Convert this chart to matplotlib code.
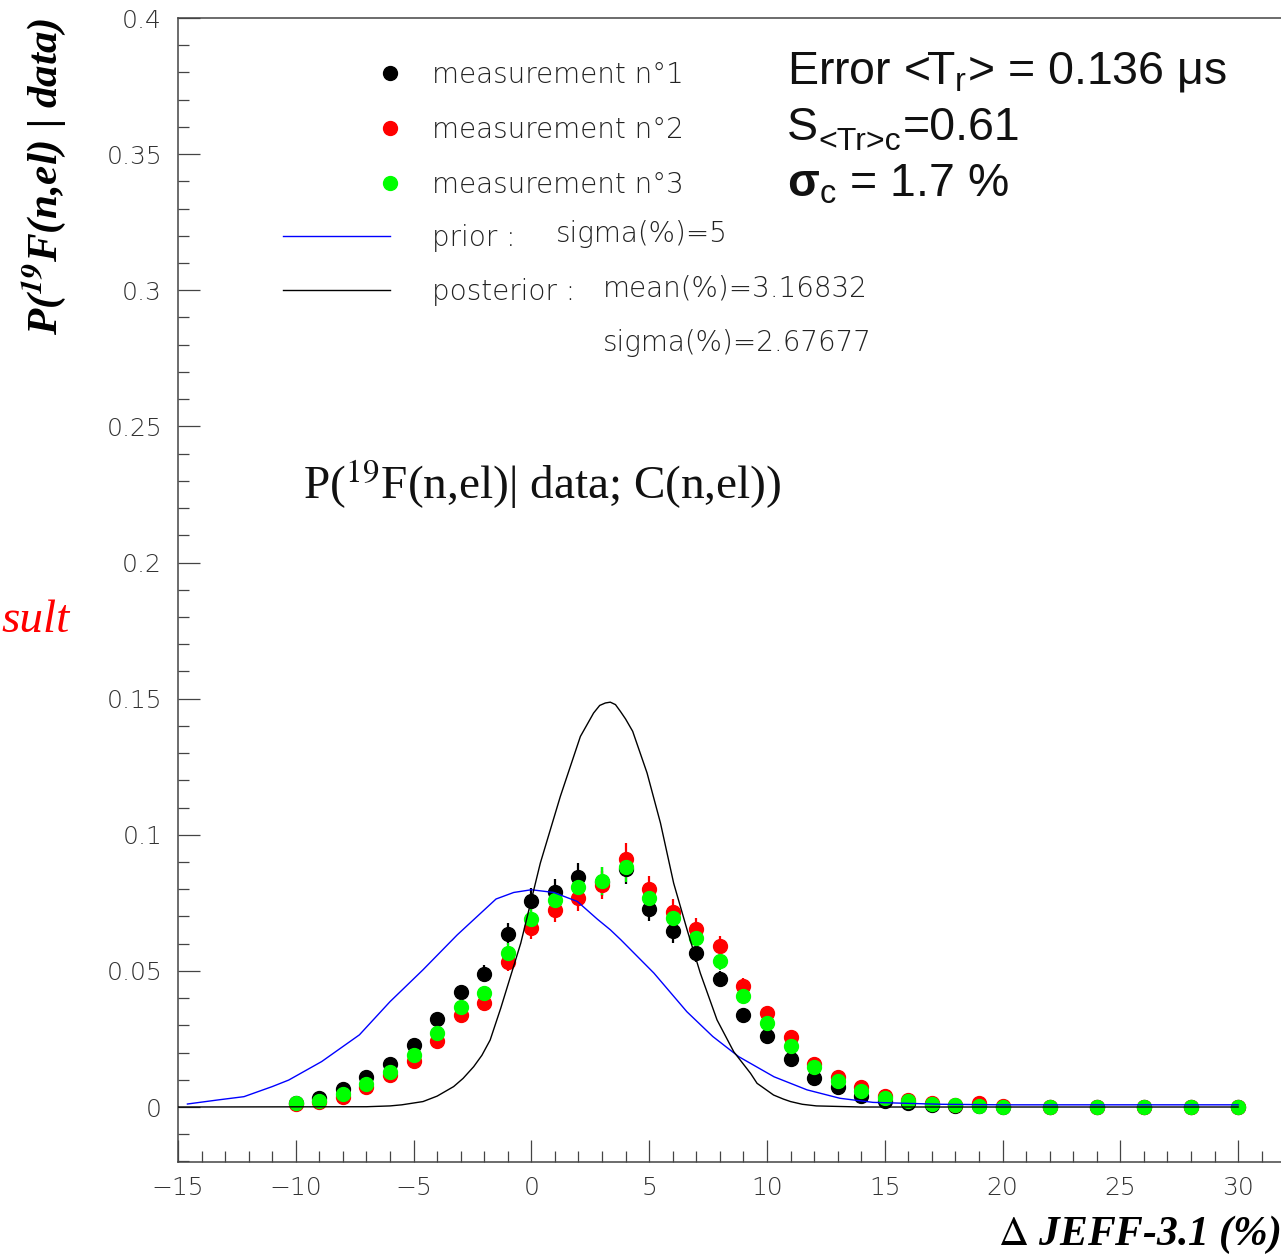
"""Posterior on the 19F(n,el) cross-section change from three measurements."""

import matplotlib.pyplot as plt
from matplotlib.lines import Line2D
from matplotlib.ticker import FuncFormatter, MultipleLocator

W, H = 1281, 1255

# shift relative to JEFF-3.1 (%)
SHIFT = [-10, -9, -8, -7, -6, -5, -4, -3, -2, -1, 0, 1, 2, 3, 4, 5, 6, 7, 8, 9,
         10, 11, 12, 13, 14, 15, 16, 17, 18, 19, 20, 22, 24, 26, 28, 30]

MEAS_1 = [0.0016, 0.0032, 0.0065, 0.0109, 0.0158, 0.0228, 0.0324, 0.0422, 0.0489,
          0.0636, 0.0755, 0.0788, 0.0843, 0.0828, 0.0874, 0.0728, 0.0645, 0.0567,
          0.0471, 0.0338, 0.0259, 0.0176, 0.0108, 0.0072, 0.0042, 0.0023, 0.0014,
          0.0006, 0.0004, 0.0003, 0.0001, 0.0, 0.0, 0.0, 0.0, 0.0]
MEAS_1_ERR = [0.0001, 0.0002, 0.0004, 0.0007, 0.0010, 0.0014, 0.0020, 0.0027, 0.0031,
              0.0040, 0.0048, 0.0050, 0.0053, 0.0052, 0.0055, 0.0046, 0.0041, 0.0036,
              0.0030, 0.0021, 0.0016, 0.0011, 0.0007, 0.0005, 0.0003, 0.0001, 0.0001,
              0.0, 0.0, 0.0, 0.0, 0.0, 0.0, 0.0, 0.0, 0.0]

MEAS_2 = [0.0011, 0.0020, 0.0038, 0.0075, 0.0118, 0.0169, 0.0243, 0.0337, 0.0381,
          0.0534, 0.0659, 0.0724, 0.0767, 0.0816, 0.0911, 0.0800, 0.0718, 0.0653,
          0.0592, 0.0445, 0.0344, 0.0256, 0.0158, 0.0111, 0.0072, 0.0042, 0.0025,
          0.0013, 0.0008, 0.0013, 0.0002, 0.0, 0.0, 0.0, 0.0, 0.0]
MEAS_2_ERR = [0.0001, 0.0001, 0.0002, 0.0005, 0.0007, 0.0011, 0.0015, 0.0021, 0.0024,
              0.0034, 0.0042, 0.0046, 0.0048, 0.0051, 0.0057, 0.0050, 0.0045, 0.0041,
              0.0037, 0.0028, 0.0022, 0.0016, 0.0010, 0.0007, 0.0005, 0.0003, 0.0002,
              0.0001, 0.0001, 0.0001, 0.0, 0.0, 0.0, 0.0, 0.0, 0.0]

MEAS_3 = [0.0016, 0.0023, 0.0048, 0.0085, 0.0130, 0.0190, 0.0273, 0.0367, 0.0420,
          0.0567, 0.0690, 0.0761, 0.0808, 0.0831, 0.0880, 0.0767, 0.0696, 0.0620,
          0.0537, 0.0409, 0.0310, 0.0224, 0.0146, 0.0097, 0.0060, 0.0034, 0.0023,
          0.0010, 0.0007, 0.0005, 0.0001, 0.0, 0.0, 0.0, 0.0, 0.0]
MEAS_3_ERR = [0.0001, 0.0001, 0.0003, 0.0005, 0.0008, 0.0012, 0.0017, 0.0023, 0.0026,
              0.0036, 0.0043, 0.0048, 0.0051, 0.0052, 0.0055, 0.0048, 0.0044, 0.0039,
              0.0034, 0.0026, 0.0020, 0.0014, 0.0009, 0.0006, 0.0004, 0.0002, 0.0001,
              0.0001, 0.0, 0.0, 0.0, 0.0, 0.0, 0.0, 0.0, 0.0]

PRIOR_X = [-14.6, -13.3, -12.2, -11.0, -10.3, -8.9, -7.3, -6.0, -4.6, -3.15, -2.3,
           -1.5, -0.75, 0.0, 0.95, 1.95, 2.8, 3.35, 3.8, 5.2, 6.6, 7.7, 8.8, 10.3,
           11.7, 13.1, 14.5, 17.4, 20.0, 30.0]
PRIOR_Y = [0.0011, 0.0026, 0.0038, 0.0075, 0.0099, 0.0167, 0.0265, 0.0387, 0.0504,
           0.0632, 0.0700, 0.0764, 0.0788, 0.0798, 0.0788, 0.0755, 0.0690, 0.0651,
           0.0614, 0.0492, 0.0350, 0.0259, 0.0185, 0.0111, 0.0063, 0.0032, 0.0017,
           0.0010, 0.0008, 0.0008]

POST_X = [-15.0, -7.0, -6.0, -5.5, -4.6, -4.0, -3.3, -2.9, -2.45, -2.1, -1.75, -1.3,
          -0.45, 0.38, 1.23, 2.08, 2.64, 2.9, 3.14, 3.35, 3.57, 3.78, 4.0, 4.3, 4.91,
          5.48, 6.04, 6.61, 7.17, 7.88, 8.59, 9.3, 9.58, 10.28, 10.7, 11.0, 11.5,
          12.1, 14.0, 30.0]
POST_Y = [0.0, 0.0001, 0.0004, 0.0008, 0.0020, 0.0040, 0.0075, 0.0105, 0.0148,
          0.0190, 0.0246, 0.0363, 0.0602, 0.0896, 0.1141, 0.1361, 0.1447, 0.1475,
          0.1484, 0.1487, 0.1478, 0.1453, 0.1425, 0.1380, 0.1227, 0.1043, 0.0822,
          0.0651, 0.0492, 0.0320, 0.0203, 0.0124, 0.0087, 0.0044, 0.0029, 0.0020,
          0.0010, 0.0004, 0.0, 0.0]

SERIES = [
    ("measurement n°1", MEAS_1, MEAS_1_ERR, "#000000"),
    ("measurement n°2", MEAS_2, MEAS_2_ERR, "#ff0000"),
    ("measurement n°3", MEAS_3, MEAS_3_ERR, "#00ff00"),
]

AXIS_COLOR = "#444444"
TEXT_COLOR = "#222222"
MARKER_SIZE = 10
ROOT_FONT = dict(family="DejaVu Sans", weight="light", size=20, color=TEXT_COLOR)


def fig_xy(px, py):
    """Pixel position (from top-left) to figure fraction."""
    return px / W, 1 - py / H


def draw_key(fig):
    for i, (label, _, _, color) in enumerate(SERIES):
        y = 73 + 55 * i
        fig.add_artist(Line2D([390 / W], [fig_xy(0, y)[1]], marker="o", ms=MARKER_SIZE,
                              color=color, linestyle="none"))
        fig.text(*fig_xy(432, y + 10), label, va="baseline", **ROOT_FONT)

    for y, color in [(236, "#0000ff"), (290, "#000000")]:
        fy = fig_xy(0, y)[1]
        fig.add_artist(Line2D([283 / W, 390 / W], [fy, fy], color=color, lw=1.0))

    fig.text(*fig_xy(432, 246), "prior :", va="baseline", **ROOT_FONT)
    fig.text(*fig_xy(556, 242), "sigma(%)=5", va="baseline", **ROOT_FONT)
    fig.text(*fig_xy(432, 300), "posterior :", va="baseline", **ROOT_FONT)
    fig.text(*fig_xy(603, 296), "mean(%)=3.16832", va="baseline", **ROOT_FONT)
    fig.text(*fig_xy(603, 351), "sigma(%)=2.67677", va="baseline", **ROOT_FONT)


def draw_summary(fig):
    big = dict(family="Liberation Sans", size=33.5, color="#111111", va="baseline",
               math_fontfamily="custom")
    fig.text(*fig_xy(787, 83), r"Error <T$_{\rm r}$> = 0.136 μs", **big)

    # S with a plain-text subscript so the < > keep tight spacing
    fig.text(*fig_xy(787, 140), "S", **big)
    fig.text(*fig_xy(818, 150), "<Tr>c", family="Liberation Sans", size=23,
             color="#111111", va="baseline")
    fig.text(*fig_xy(903, 140), "=0.61", **big)

    fig.text(*fig_xy(787, 197), r"$\mathbf{\sigma}_{\rm c}$ = 1.7 %", **big)


def main():
    plt.rcParams["font.family"] = ["DejaVu Sans"]
    plt.rcParams["mathtext.fontset"] = "custom"
    plt.rcParams["mathtext.rm"] = "Liberation Sans"
    plt.rcParams["mathtext.it"] = "Liberation Sans:italic"
    plt.rcParams["mathtext.bf"] = "Liberation Sans:bold"

    fig = plt.figure(figsize=(W / 100, H / 100), dpi=100)
    ax = fig.add_axes([178 / W, 93 / H, (W - 178) / W, (1237 - 93) / H])

    for label, vals, errs, color in SERIES:
        ax.errorbar(SHIFT, vals, yerr=errs, fmt="o", ms=MARKER_SIZE, color=color,
                    mec=color, elinewidth=1.6, capsize=0, zorder=3)

    ax.plot(PRIOR_X, PRIOR_Y, color="#0000ff", lw=1.0, zorder=4)
    ax.plot(POST_X, POST_Y, color="#000000", lw=1.0, zorder=4)

    ax.set_xlim(-15, 31.82)
    ax.set_ylim(-0.0202, 0.4)

    ax.xaxis.set_major_locator(MultipleLocator(5))
    ax.xaxis.set_minor_locator(MultipleLocator(1))
    ax.yaxis.set_major_locator(MultipleLocator(0.05))
    ax.yaxis.set_minor_locator(MultipleLocator(0.01))
    ax.xaxis.set_major_formatter(FuncFormatter(lambda v, _: f"{v:g}".replace("-", "\u2212")))
    ax.yaxis.set_major_formatter(FuncFormatter(lambda v, _: f"{v:g}"))

    ax.tick_params(which="both", direction="in", color=AXIS_COLOR, width=0.9,
                   labelsize=18, labelcolor="#333333", top=False, right=False)
    ax.tick_params(which="major", length=16)
    ax.tick_params(which="minor", length=8)
    ax.tick_params(axis="x", which="major", pad=10)
    ax.tick_params(axis="y", which="major", pad=11.5)
    for lbl in ax.get_xticklabels() + ax.get_yticklabels():
        lbl.set_fontweight("light")

    ax.spines["right"].set_visible(False)
    for side in ("left", "bottom", "top"):
        ax.spines[side].set_color(AXIS_COLOR)
        ax.spines[side].set_linewidth(1.1)

    ax.set_ylabel(r"P($^{\mathbfit{19}}$F(n,el) | data)", family="Liberation Serif",
                  style="italic", weight="bold", size=31, loc="top",
                  math_fontfamily="stix")
    ax.yaxis.set_label_coords(-0.100, 1.0)
    ax.set_xlabel(r"$\Delta$ JEFF-3.1 (%)", family="Liberation Serif", style="italic",
                  weight="bold", size=30, loc="right", math_fontfamily="stix")
    ax.xaxis.set_label_coords(1.0, -0.045)

    draw_key(fig)
    draw_summary(fig)

    fig.text(*fig_xy(303, 499), r"P($^{19}$F(n,el)| data; C(n,el))",
             family="Liberation Serif", size=34, color="#111111", va="baseline",
             math_fontfamily="stix")
    fig.text(*fig_xy(1, 632), "sult", family="Liberation Serif", style="italic",
             size=34, color="#ff0000", ha="left", va="baseline")

    fig.savefig("out.png", dpi=100)
    plt.close(fig)


if __name__ == "__main__":
    main()
